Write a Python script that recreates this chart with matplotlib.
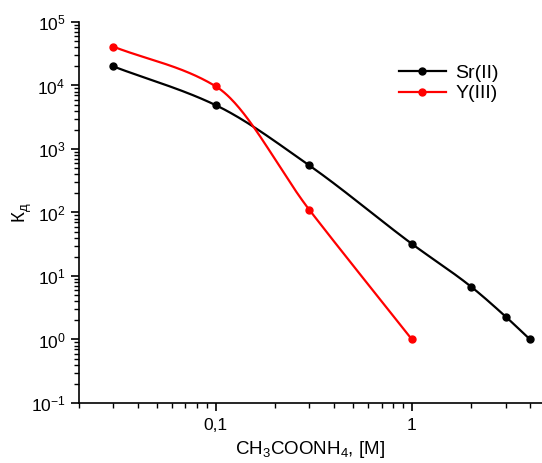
import numpy as np
import matplotlib
matplotlib.use('Agg')
import matplotlib.pyplot as plt
from matplotlib.ticker import LogLocator, FixedLocator, FixedFormatter, NullFormatter, FuncFormatter

plt.rcParams['font.family'] = ['Liberation Sans', 'DejaVu Sans']
plt.rcParams['mathtext.fontset'] = 'custom'
plt.rcParams['mathtext.rm'] = 'Liberation Sans'
plt.rcParams['mathtext.it'] = 'Liberation Sans'

# data
sr_x = [0.03, 0.1, 0.3, 1, 2, 3, 4]
sr_y = [2.0e4, 4.9e3, 550, 32, 6.8, 2.3, 1.0]
y_x = [0.03, 0.1, 0.3, 1]
y_y = [4.1e4, 9.7e3, 110, 1.0]
labels = ['Sr(II)', 'Y(III)']
colors = ['black', 'red']


def smooth(x, y, n=200):
    # monotone cubic hermite curve in log-log space (end slopes = secants)
    lx = np.log10(x)
    ly = np.log10(y)
    h = np.diff(lx)
    d = np.diff(ly) / h
    k = len(lx)
    m = np.zeros(k)
    for i in range(1, k - 1):
        if d[i - 1] * d[i] > 0:
            w1 = 2 * h[i] + h[i - 1]
            w2 = h[i] + 2 * h[i - 1]
            m[i] = (w1 + w2) / (w1 / d[i - 1] + w2 / d[i])
    m[0] = d[0]
    m[-1] = d[-1]
    xs = np.linspace(lx[0], lx[-1], n)
    idx = np.clip(np.searchsorted(lx, xs) - 1, 0, k - 2)
    t = (xs - lx[idx]) / h[idx]
    h00 = 2 * t**3 - 3 * t**2 + 1
    h10 = t**3 - 2 * t**2 + t
    h01 = -2 * t**3 + 3 * t**2
    h11 = t**3 - t**2
    ys = h00 * ly[idx] + h10 * h[idx] * m[idx] + h01 * ly[idx + 1] + h11 * h[idx] * m[idx + 1]
    return 10 ** xs, 10 ** ys


fig = plt.figure(figsize=(5.42, 4.63), dpi=100)
ax = fig.add_axes([0.145, 0.1296, 0.855, 0.8229])

for xs, ys, lab, c in [(sr_x, sr_y, labels[0], colors[0]), (y_x, y_y, labels[1], colors[1])]:
    sx, sy = smooth(xs, ys)
    ax.plot(sx, sy, color=c, lw=1.6)
    ax.plot(xs, ys, 'o', color=c, ms=5)
    ax.plot([], [], '-o', color=c, lw=1.6, ms=5, label=lab)

ax.set_xscale('log')
ax.set_yscale('log')
ax.set_xlim(0.02, 4.6)
ax.set_ylim(0.1, 1e5)

ax.xaxis.set_major_locator(FixedLocator([0.1, 1]))
ax.xaxis.set_major_formatter(FixedFormatter(['0,1', '1']))
ax.xaxis.set_minor_locator(LogLocator(base=10, subs=np.arange(2, 10), numticks=20))
ax.xaxis.set_minor_formatter(NullFormatter())
ax.yaxis.set_major_locator(LogLocator(base=10, numticks=20))
ax.yaxis.set_major_formatter(FuncFormatter(lambda v, p: '10$^{\\mathregular{%d}}$' % round(np.log10(v))))
ax.yaxis.set_minor_locator(LogLocator(base=10, subs=np.arange(2, 10), numticks=20))
ax.yaxis.set_minor_formatter(NullFormatter())

ax.spines['top'].set_visible(False)
ax.spines['right'].set_visible(False)
for s in ['left', 'bottom']:
    ax.spines[s].set_linewidth(1.2)
ax.tick_params(which='major', direction='out', length=6, width=1.2, labelsize=12.5)
ax.tick_params(which='minor', direction='out', length=3.5, width=1)
ax.tick_params(axis='x', which='major', pad=5)

ax.set_xlabel('CH$_3$COONH$_4$, [M]', fontsize=13.5, labelpad=4)
ax.set_ylabel('К$_{\\mathregular{д}}$', fontsize=13.5)
ax.yaxis.set_label_coords(-0.097, 0.50)

ax.legend(loc='upper right', bbox_to_anchor=(0.945, 0.935), frameon=False,
          fontsize=14, handlelength=2.4, handletextpad=0.5, labelspacing=0.15)

fig.savefig('out.png', dpi=100)
